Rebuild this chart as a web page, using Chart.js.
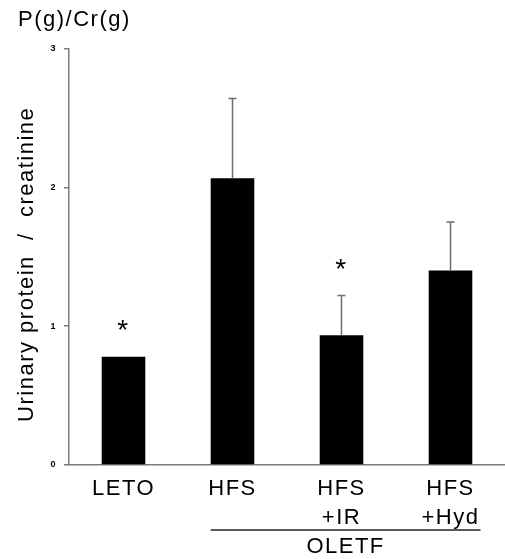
<!DOCTYPE html>
<html>
<head>
<meta charset="utf-8">
<script src="https://cdn.jsdelivr.net/npm/chart.js@4"></script>
<style>
  html, body { margin: 0; padding: 0; background: #fff; }
  #wrap { width: 505px; height: 559px; }
</style>
</head>
<body>
<div id="wrap"><canvas id="chart"></canvas></div>
<script>
// data
const categories = [["LETO"], ["HFS"], ["HFS", "+IR"], ["HFS", "+Hyd"]];
const means = [0.78, 2.065, 0.935, 1.40];
const errors = [0, 0.575, 0.285, 0.35];
const significant = [true, false, true, false];
const yMin = 0, yMax = 3, yStep = 1;
const groupLabel = "OLETF";
const groupFrom = 1, groupTo = 3;

const FONT = "'Liberation Sans', Arial, sans-serif";
const AXIS = "#7a7a7a";

// letter spacing to mimic the wider text of the original
const spacingPlugin = {
  id: "spacing",
  beforeDraw(chart) { chart.ctx.letterSpacing = "1.5px"; }
};

// error bars, asterisks and the OLETF group line
const extrasPlugin = {
  id: "extras",
  afterDatasetsDraw(chart) {
    const ctx = chart.ctx;
    const y = chart.scales.y;
    const meta = chart.getDatasetMeta(0);
    ctx.save();
    meta.data.forEach((bar, i) => {
      const top = y.getPixelForValue(means[i] + errors[i]);
      if (errors[i] > 0) {
        ctx.strokeStyle = "#6e6e6e";
        ctx.lineWidth = 1.5;
        ctx.beginPath();
        ctx.moveTo(bar.x, bar.y);
        ctx.lineTo(bar.x, top);
        ctx.moveTo(bar.x - 4, top);
        ctx.lineTo(bar.x + 4, top);
        ctx.stroke();
      }
      if (significant[i]) {
        ctx.fillStyle = "#000";
        ctx.font = "28px " + FONT;
        ctx.textAlign = "center";
        ctx.textBaseline = "alphabetic";
        ctx.fillText("*", bar.x, top - 18);
      }
    });
    ctx.restore();
  },
  afterDraw(chart) {
    const ctx = chart.ctx;
    const meta = chart.getDatasetMeta(0);
    const x0 = meta.data[groupFrom].x - meta.data[groupFrom].width / 2;
    const x1 = meta.data[groupTo].x + 30;
    const yLine = chart.chartArea.bottom + 65;
    ctx.save();
    ctx.strokeStyle = "#222";
    ctx.lineWidth = 1.5;
    ctx.beginPath();
    ctx.moveTo(x0, yLine);
    ctx.lineTo(x1, yLine);
    ctx.stroke();
    ctx.fillStyle = "#000";
    ctx.font = "22px " + FONT;
    ctx.textAlign = "center";
    ctx.textBaseline = "middle";
    ctx.fillText(groupLabel, (x0 + x1) / 2, yLine + 17);
    ctx.restore();
  }
};

new Chart(document.getElementById("chart"), {
  type: "bar",
  data: {
    labels: categories,
    datasets: [{
      data: means,
      backgroundColor: "#000",
      borderWidth: 0,
      categoryPercentage: 1,
      barPercentage: 0.4
    }]
  },
  plugins: [spacingPlugin, extrasPlugin],
  options: {
    responsive: true,
    maintainAspectRatio: false,
    animation: false,
    events: [],
    layout: { padding: { left: 18, right: 0, top: 0, bottom: 0 } },
    plugins: {
      legend: { display: false },
      tooltip: { enabled: false },
      title: {
        display: true,
        text: "P(g)/Cr(g)",
        align: "start",
        color: "#000",
        font: { family: FONT, size: 22, weight: "normal", lineHeight: 1.2 },
        padding: { top: 7, bottom: 15 }
      }
    },
    scales: {
      x: {
        grid: { display: false, drawTicks: false },
        border: { display: true, color: AXIS, width: 1.5 },
        ticks: {
          color: "#000",
          padding: 10,
          maxRotation: 0,
          font: { family: FONT, size: 22, lineHeight: 1.3 }
        },
        afterFit(scale) { scale.height = 94; }
      },
      y: {
        min: yMin,
        max: yMax,
        grid: { drawOnChartArea: false, drawTicks: true, tickLength: 5, color: AXIS, lineWidth: 1.5 },
        border: { display: true, color: AXIS, width: 1.5 },
        ticks: {
          stepSize: yStep,
          color: "#000",
          padding: 7,
          font: { family: FONT, size: 9, weight: "bold" }
        },
        title: {
          display: true,
          text: "Urinary protein  /  creatinine  ",
          color: "#000",
          font: { family: FONT, size: 22, lineHeight: 1 },
          padding: { top: -2, bottom: 0 }
        },
        afterFit(scale) { scale.width = 51; }
      }
    }
  }
});
</script>
</body>
</html>
